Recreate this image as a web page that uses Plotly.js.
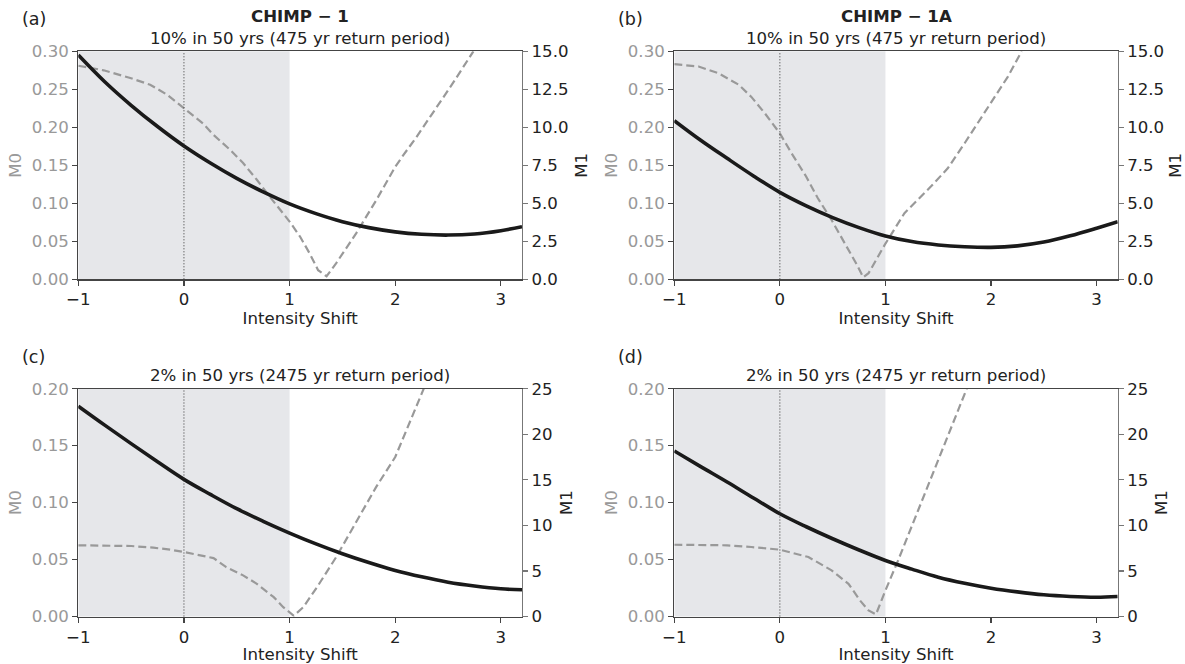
<!DOCTYPE html>
<html>
<head>
<meta charset="utf-8">
<script src="https://cdn.plot.ly/plotly-3.0.1.min.js"></script>
<style>html,body{margin:0;padding:0;background:#fff;}#chart{width:1185px;height:664px;}</style>
</head>
<body>
<div id="chart"></div>
<script>
// ---------- data ----------
const panelLabels = ["(a)", "(b)", "(c)", "(d)"];
const modelNames = ["CHIMP \u2212 1", "CHIMP \u2212 1A", "", ""];
const hazardTitles = [
  "10% in 50 yrs (475 yr return period)",
  "10% in 50 yrs (475 yr return period)",
  "2% in 50 yrs (2475 yr return period)",
  "2% in 50 yrs (2475 yr return period)"
];
const xTickVals = [-1, 0, 1, 2, 3];
const shadeRange = [-1, 1];
const referenceShift = 0;

// M1 (solid black, right axis) sampled on a common grid
const xM1 = [-1, -0.75, -0.5, -0.25, 0, 0.25, 0.5, 0.75, 1, 1.25, 1.5, 1.75, 2, 2.25, 2.5, 2.75, 3, 3.2];
const m1A = [14.76, 13.0, 11.45, 10.05, 8.77, 7.65, 6.64, 5.75, 4.96, 4.32, 3.79, 3.40, 3.12, 2.96, 2.91, 2.98, 3.2, 3.46];
const m1B = [10.44, 9.15, 7.96, 6.80, 5.72, 4.83, 4.06, 3.40, 2.85, 2.48, 2.26, 2.14, 2.10, 2.20, 2.45, 2.86, 3.36, 3.79];
const m1C = [23.08, 21.0, 18.97, 16.98, 15.05, 13.4, 11.83, 10.45, 9.16, 7.97, 6.89, 5.92, 5.05, 4.35, 3.77, 3.35, 3.04, 2.93];
const m1D = [18.17, 16.45, 14.76, 13.0, 11.28, 9.85, 8.53, 7.3, 6.15, 5.2, 4.32, 3.65, 3.11, 2.7, 2.38, 2.2, 2.12, 2.2];

// M0 (dashed grey, left axis)
const xM0A = [-1, -0.76, -0.5, -0.32, -0.16, 0, 0.18, 0.28, 0.44, 0.56, 0.69, 0.81, 0.94, 1.0, 1.1, 1.19, 1.27, 1.35, 1.44, 1.63, 1.82, 2.0, 2.08, 2.2, 2.39, 2.55, 2.74];
const m0A  = [0.281, 0.275, 0.2645, 0.256, 0.243, 0.225, 0.205, 0.19, 0.17, 0.153, 0.131, 0.109, 0.087, 0.076, 0.056, 0.034, 0.012, 0.004, 0.021, 0.0605, 0.104, 0.148, 0.164, 0.187, 0.226, 0.259, 0.30];
const xM0B = [-1, -0.77, -0.58, -0.39, -0.27, -0.14, 0, 0.11, 0.25, 0.36, 0.49, 0.62, 0.73, 0.79, 0.84, 1.0, 1.18, 1.43, 1.59, 1.75, 2.0, 2.16, 2.29];
const m0B  = [0.283, 0.280, 0.271, 0.256, 0.240, 0.218, 0.192, 0.166, 0.135, 0.1066, 0.078, 0.047, 0.019, 0.0026, 0.008, 0.047, 0.087, 0.122, 0.146, 0.179, 0.2316, 0.2667, 0.30];
const xM0C = [-1, -0.76, -0.5, -0.29, -0.13, 0, 0.12, 0.28, 0.40, 0.56, 0.69, 0.85, 0.94, 1.04, 1.13, 1.26, 1.44, 1.64, 1.82, 2.0, 2.14, 2.27];
const m0C  = [0.0625, 0.0625, 0.0619, 0.0604, 0.0587, 0.0566, 0.0545, 0.0513, 0.0434, 0.0361, 0.0287, 0.017, 0.0082, 0.0006, 0.0082, 0.0258, 0.052, 0.0845, 0.1138, 0.140, 0.172, 0.20];
const xM0D = [-1, -0.77, -0.5, -0.27, 0, 0.27, 0.49, 0.65, 0.76, 0.84, 0.91, 1.0, 1.12, 1.31, 1.5, 1.66, 1.77];
const m0D  = [0.063, 0.063, 0.0625, 0.061, 0.0587, 0.0522, 0.0405, 0.0287, 0.014, 0.0053, 0.0018, 0.0229, 0.0493, 0.0933, 0.137, 0.174, 0.20];

const m0Ranges = [[0, 0.30], [0, 0.30], [0, 0.20], [0, 0.20]];
const m1Ranges = [[0, 15], [0, 15], [0, 25], [0, 25]];
const m0Dticks = [0.05, 0.05, 0.05, 0.05];
const m1Dticks = [2.5, 2.5, 5, 5];
const m1Formats = [".1f", ".1f", "d", "d"];

// ---------- geometry & style ----------
const W = 1185, H = 664;
const FONT = "DejaVu Sans, Liberation Sans, sans-serif";
const FS = 16.6;
const px2x = p => p / W;
const px2y = p => 1 - p / H;
const panels = [
  {x0: 78.3, x1: 522, y0: 51.3, y1: 279.3},
  {x0: 674.3, x1: 1117.7, y0: 51.3, y1: 279.3},
  {x0: 78.3, x1: 522, y0: 388.7, y1: 616.5},
  {x0: 674.3, x1: 1117.7, y0: 388.7, y1: 616.5}
];
const GREY = "#999999";
const SHADE = "#e6e7ea";
const m0X = [xM0A, xM0B, xM0C, xM0D];
const m0Y = [m0A, m0B, m0C, m0D];
const m1Y = [m1A, m1B, m1C, m1D];

const data = [];
const layout = {
  width: W, height: H,
  margin: {l: 0, r: 0, t: 0, b: 0},
  paper_bgcolor: "#fff", plot_bgcolor: "#fff",
  showlegend: false,
  font: {family: FONT, size: FS, color: "#222"},
  shapes: [], annotations: []
};

panels.forEach((p, i) => {
  const k = i + 1;
  const xa = k === 1 ? "x" : "x" + k;
  const yl = "y" + (2 * i + 1 === 1 ? "" : 2 * i + 1);
  const yr = "y" + (2 * i + 2);
  const xName = k === 1 ? "xaxis" : "xaxis" + k;
  const ylName = 2 * i + 1 === 1 ? "yaxis" : "yaxis" + (2 * i + 1);
  const yrName = "yaxis" + (2 * i + 2);

  layout[xName] = {
    domain: [px2x(p.x0), px2x(p.x1)], anchor: yl,
    range: [-1, 3.2], tickvals: xTickVals,
    showgrid: false, zeroline: false,
    showline: true, linecolor: "#444", linewidth: 1.2, mirror: true,
    ticks: "outside", ticklen: 5, tickwidth: 1.2, tickcolor: "#444",
    tickfont: {family: FONT, size: FS, color: "#222"},
    title: {text: "Intensity Shift", font: {family: FONT, size: FS, color: "#222"}, standoff: 3}
  };
  layout[ylName] = {
    domain: [px2y(p.y1), px2y(p.y0)], anchor: xa,
    range: m0Ranges[i], dtick: m0Dticks[i], tick0: 0, tickformat: ".2f",
    showgrid: false, zeroline: false,
    showline: true, linecolor: "#444", linewidth: 1.2,
    ticks: "outside", ticklen: 5, tickwidth: 1.2, tickcolor: "#444",
    tickfont: {family: FONT, size: FS, color: GREY},
    title: {text: "M0", font: {family: FONT, size: FS, color: GREY}, standoff: 6}
  };
  layout[yrName] = {
    overlaying: yl, side: "right", anchor: xa,
    range: m1Ranges[i], dtick: m1Dticks[i], tick0: 0, tickformat: m1Formats[i],
    showgrid: false, zeroline: false,
    showline: true, linecolor: "#777", linewidth: 1.2,
    ticks: "outside", ticklen: 5, tickwidth: 1.2, tickcolor: "#777",
    tickfont: {family: FONT, size: FS, color: "#222"},
    title: {text: "M1", font: {family: FONT, size: FS, color: "#222"}, standoff: 8}
  };

  // shaded region and reference line
  layout.shapes.push({
    type: "rect", layer: "below", xref: xa, yref: yl + " domain",
    x0: shadeRange[0], x1: shadeRange[1], y0: 0, y1: 1,
    fillcolor: SHADE, line: {width: 0}
  });
  layout.shapes.push({
    type: "line", layer: "above", xref: xa, yref: yl + " domain",
    x0: referenceShift, x1: referenceShift, y0: 0, y1: 1,
    line: {color: "#333", width: 1, dash: "1px,2px"}
  });

  data.push({
    x: m0X[i], y: m0Y[i], xaxis: xa, yaxis: yl, type: "scatter", mode: "lines",
    name: "M0", line: {color: GREY, width: 2.2, dash: "8px,4px"}, hoverinfo: "x+y"
  });
  data.push({
    x: xM1, y: m1Y[i], xaxis: xa, yaxis: yr, type: "scatter", mode: "lines",
    name: "M1", line: {color: "#1a1a1a", width: 3.6, shape: "spline", smoothing: 1}, hoverinfo: "x+y"
  });

  const cx = (p.x0 + p.x1) / 2;
  layout.annotations.push({
    text: panelLabels[i], xref: "paper", yref: "paper",
    x: px2x(i % 2 === 0 ? 20 : 616), y: px2y(p.y0 - 32),
    xanchor: "left", yanchor: "middle", showarrow: false,
    font: {family: FONT, size: 17.5, color: "#222"}
  });
  if (modelNames[i]) {
    layout.annotations.push({
      text: "<b>" + modelNames[i] + "</b>", xref: "paper", yref: "paper",
      x: px2x(cx), y: px2y(p.y0 - 35), xanchor: "center", yanchor: "middle", showarrow: false,
      font: {family: FONT, size: FS, color: "#222"}
    });
  }
  layout.annotations.push({
    text: hazardTitles[i], xref: "paper", yref: "paper",
    x: px2x(cx), y: px2y(p.y0 - 13), xanchor: "center", yanchor: "middle", showarrow: false,
    font: {family: FONT, size: FS, color: "#222"}
  });
});

Plotly.newPlot("chart", data, layout, {displayModeBar: false, staticPlot: true});
</script>
</body>
</html>
